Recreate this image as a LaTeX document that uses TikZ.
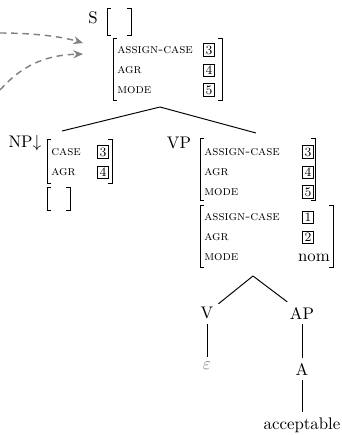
\documentclass[tikz,border=0pt]{standalone}
\usetikzlibrary{arrows.meta}
\newcommand\tagbox[1]{{\setlength\fboxsep{0.9pt}\setlength\fboxrule{0.45pt}\fbox{\footnotesize #1}}}
% bracket pair: x1,y1 (top left) x2,y2 (bottom right)
\newcommand\avmbrackets[4]{%
  \draw[avmline] (#1+4,#2) -- (#1,#2) -- (#1,#4) -- (#1+4,#4);
  \draw[avmline] (#3-4,#2) -- (#3,#2) -- (#3,#4) -- (#3-4,#4);}
\begin{document}
\begin{tikzpicture}[x=0.625pt,y=-0.625pt,
  avmline/.style={line width=0.55pt},
  feat/.style={anchor=west,inner sep=0pt,font=\fontsize{8.3}{10}\selectfont\scshape},
  val/.style={inner sep=0pt},
  cat/.style={inner sep=3pt,font=\fontsize{10.5}{12}\selectfont},
  branch/.style={line width=0.6pt},
  link/.style={draw=gray,dashed,line width=0.9pt,dash pattern=on 4pt off 3pt,-{Stealth[length=6pt,width=5pt]}}]
\useasboundingbox (0,0) rectangle (341,435);

% root S with its two feature structures
\node[cat] (S) at (93,18) {S};
\avmbrackets{107}{8}{131}{35}
\avmbrackets{113}{38}{222}{100}
\node[feat] (s1) at (117,50) {assign-case};
\node[feat] (s2) at (117,70) {agr};
\node[feat] (s3) at (117,90) {mode};
\node[val] (s1v) at (209,50) {\tagbox{3}};
\node[val] (s2v) at (209,70) {\tagbox{4}};
\node[val] (s3v) at (209,90) {\tagbox{5}};

% incoming dashed links
\coordinate (in1) at (0,33);
\coordinate (in2) at (0,90);
\coordinate (t1) at (83,43);
\coordinate (t2) at (83,54);
\draw[link] (in1) .. controls (30,33) and (60,36) .. (t1);
\draw[link] (in2) .. controls (25,62) and (50,55) .. (t2);

% top branching
\coordinate (Sroot) at (160,107);
\coordinate (NPtop) at (62,131);
\coordinate (VPtop) at (256,133);
\draw[branch] (Sroot) -- (NPtop);
\draw[branch] (Sroot) -- (VPtop);

% NP daughter
\node[cat] (NP) at (25,143) {NP$\downarrow$};
\avmbrackets{47}{139}{112}{183}
\node[feat] (n1) at (51,152) {case};
\node[feat] (n2) at (51,172) {agr};
\node[val] (n1v) at (103,152) {\tagbox{3}};
\node[val] (n2v) at (103,172) {\tagbox{4}};
\avmbrackets{47}{187}{70}{210}

% VP daughter
\node[cat] (VP) at (179,143) {VP};
\avmbrackets{200}{138}{315}{200}
\node[feat] (v1) at (204,152) {assign-case};
\node[feat] (v2) at (204,172) {agr};
\node[feat] (v3) at (204,192) {mode};
\node[val] (v1v) at (308,152) {\tagbox{3}};
\node[val] (v2v) at (308,172) {\tagbox{4}};
\node[val] (v3v) at (308,192) {\tagbox{5}};
\avmbrackets{200}{205}{333}{267}
\node[feat] (w1) at (204,217) {assign-case};
\node[feat] (w2) at (204,237) {agr};
\node[feat] (w3) at (204,257) {mode};
\node[val] (w1v) at (308,217) {\tagbox{1}};
\node[val] (w2v) at (308,237) {\tagbox{2}};
\node[val,anchor=base,font=\fontsize{10.5}{12}\selectfont] (w3v) at (314,261) {nom};

% lower subtree
\coordinate (VProot) at (253,276);
\node[cat] (V) at (207,313) {V};
\node[cat] (AP) at (302,313) {AP};
\node[cat,text=gray] (eps) at (207,366) {$\varepsilon$};
\node[cat] (A) at (302,369) {A};
\node[cat] (acc) at (302,425) {acceptable};
\draw[branch] (VProot) -- (V);
\draw[branch] (VProot) -- (AP);
\draw[branch] (V) -- (eps);
\draw[branch] (AP) -- (A);
\draw[branch] (A) -- (acc);
\end{tikzpicture}
\end{document}
